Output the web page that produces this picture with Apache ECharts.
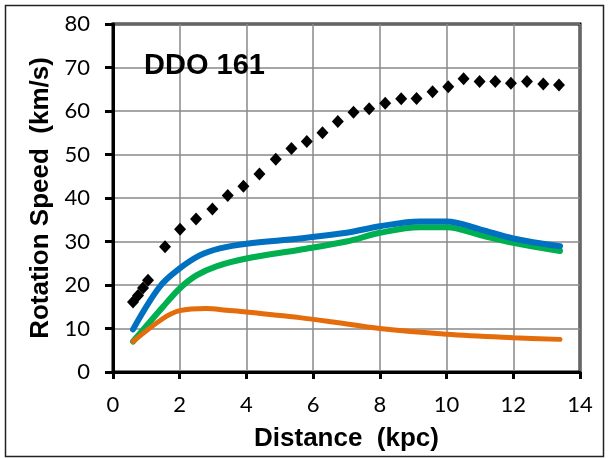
<!DOCTYPE html>
<html>
<head>
<meta charset="utf-8">
<script src="https://cdn.jsdelivr.net/npm/echarts@6/dist/echarts.min.js"></script>
<style>
html,body{margin:0;padding:0;background:#fff;}
#chart{width:608px;height:459px;}
</style>
</head>
<body>
<div id="chart"></div>
<script>
// Observed rotation speed (black diamonds): [distance kpc, speed km/s]
const observed = [
  [0.60,16.1],[0.75,17.6],[0.90,19.3],[1.05,21.1],[1.56,28.8],[2.01,32.8],[2.49,35.2],
  [2.98,37.5],[3.44,40.6],[3.91,42.7],[4.39,45.5],[4.88,48.9],[5.35,51.4],[5.81,53.0],
  [6.28,55.0],[6.74,57.6],[7.21,59.7],[7.68,60.5],[8.16,61.8],[8.64,62.8],[9.10,62.9],
  [9.58,64.4],[10.05,65.6],[10.51,67.4],[10.99,66.8],[11.46,66.8],[11.93,66.4],
  [12.41,66.8],[12.90,66.2],[13.37,66.0]
];
// Blue curve
const blueCurve = [
  [0.6,9.8],[1.4,19.6],[2.0,23.8],[2.6,26.8],[3.2,28.4],[4.0,29.5],
  [5.6,30.7],[7.0,32.0],[8.0,33.5],[9.2,34.6],[10.0,34.6],
  [11.0,32.8],[12.0,30.7],[13.4,28.9]
];
// Green curve
const greenCurve = [
  [0.6,7.0],[1.5,15.0],[2.0,19.2],[2.5,22.2],[3.1,24.3],[4.0,26.1],
  [5.6,28.1],[7.0,30.0],[8.0,32.0],[9.2,33.3],[10.0,33.3],
  [11.0,31.5],[12.0,29.7],[13.4,27.8]
];
// Orange curve
const orangeCurve = [
  [0.6,7.0],[1.5,12.3],[2.0,14.1],[2.8,14.6],[3.4,14.2],[4.0,13.8],
  [5.6,12.5],[6.6,11.5],[8.0,10.0],[10.0,8.7],[12.0,7.9],[13.4,7.5]
];
const chartTitle = 'DDO 161';
const xTitle = 'Distance  (kpc)';
const yTitle = 'Rotation Speed  (km/s)';

const chart = echarts.init(document.getElementById('chart'), null, {renderer:'canvas'});
const tickFont = {fontFamily:'Lato', fontSize:22, color:'#000'};
const titleFont = {fontFamily:'Liberation Sans', fontWeight:'bold', fontSize:26, color:'#000'};
chart.setOption({
  animation:false,
  backgroundColor:'#fff',
  grid:{left:113,right:28,top:24,bottom:87,show:true,borderColor:'#000',borderWidth:3,backgroundColor:'transparent'},
  title:{text:chartTitle,left:139,top:46,textStyle:{fontFamily:'Liberation Sans',fontWeight:'bold',fontSize:29,color:'#000'}},
  graphic:[{type:'rect',shape:{x:5.5,y:5.5,width:598,height:451},style:{fill:'none',stroke:'#222',lineWidth:1.5},silent:true,z:-1}],
  xAxis:{
    type:'value',min:0,max:14,interval:2,
    name:xTitle,nameLocation:'middle',nameGap:54,nameTextStyle:titleFont,
    axisLine:{show:true,onZero:false,lineStyle:{color:'#000',width:3}},
    axisTick:{show:true,inside:false,length:7,lineStyle:{color:'#000',width:3}},
    axisLabel:{...tickFont,margin:22},
    splitLine:{show:true,lineStyle:{color:'#888',width:1.5}}
  },
  yAxis:{
    type:'value',min:0,max:80,interval:10,
    name:yTitle,nameLocation:'middle',nameGap:57,nameTextStyle:titleFont,
    axisLine:{show:true,onZero:false,lineStyle:{color:'#000',width:3}},
    axisTick:{show:true,inside:false,length:8,lineStyle:{color:'#000',width:3}},
    axisLabel:{...tickFont,margin:23},
    splitLine:{show:true,lineStyle:{color:'#888',width:1.5}}
  },
  series:[
    {type:'line',data:greenCurve,smooth:0.35,showSymbol:false,
     lineStyle:{color:'#00B050',width:6,cap:'round'},z:2},
    {type:'line',data:blueCurve,smooth:0.35,showSymbol:false,
     lineStyle:{color:'#0070C0',width:6,cap:'round'},z:3},
    {type:'line',data:orangeCurve,smooth:0.35,showSymbol:false,
     lineStyle:{color:'#E46C0A',width:5,cap:'round'},z:4},
    {type:'scatter',data:observed,symbol:'diamond',symbolSize:[12,13],
     itemStyle:{color:'#000',opacity:1},z:5}
  ]
});
</script>
</body>
</html>
